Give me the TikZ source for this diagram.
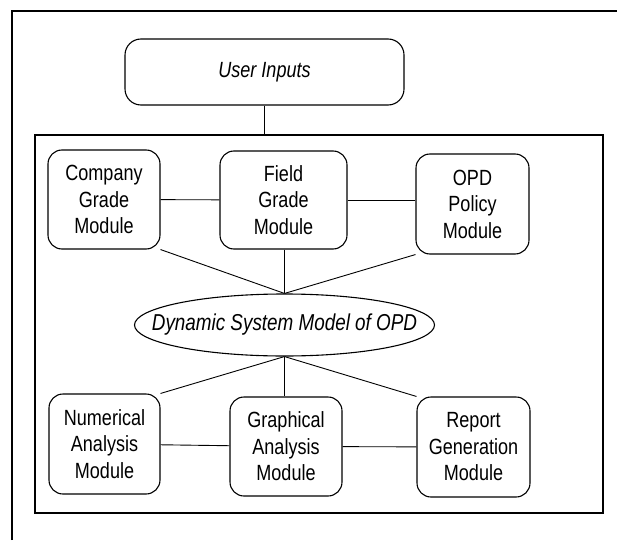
\documentclass[tikz,border=0pt]{standalone}
\usepackage{fontspec}
\setmainfont{Liberation Sans}[FakeStretch=0.82]
\usetikzlibrary{shapes.geometric}
\begin{document}
\begin{tikzpicture}[x=1pt,y=-1pt,
        module/.style={draw,line width=1.1pt,rounded corners=14pt,align=center,inner sep=0pt,font=\fontsize{22}{26.5}\selectfont},
        link/.style={line width=0.9pt}]
            \useasboundingbox[fill=white] (0,0) rectangle (617,540);
            \draw[line width=1.6pt] (12,540) -- (12,11) -- (617,11);

            \node[draw,line width=1.1pt,minimum width=568pt,minimum height=378pt] (sysframe) at (319,324){};
            \node[module,minimum width=279pt,minimum height=66pt,rounded corners=16pt,font=\fontsize{22}{26}\selectfont\itshape] (user) at (264.5,72){User Inputs};

            \node[module,minimum width=112pt,minimum height=99pt] (company) at (104,199.5){Company\\Grade\\Module};
            \node[module,minimum width=127pt,minimum height=98pt] (field) at (283.5,200){Field\\Grade\\Module};
            \node[module,minimum width=113pt,minimum height=100pt] (policy) at (472.5,204){OPD\\Policy\\Module};

            \node[draw,ellipse,line width=1.1pt,minimum width=300pt,minimum height=62pt,inner sep=0pt,font=\fontsize{23}{26}\selectfont\itshape] (dsm) at (284.5,325){\makebox[0pt]{Dynamic System Model of OPD}};

            \node[module,minimum width=111pt,minimum height=100pt] (numeric) at (104.5,444){Numerical\\Analysis\\Module};
            \node[module,minimum width=112pt,minimum height=99pt] (graphic) at (286,446.5){Graphical\\Analysis\\Module};
            \node[module,minimum width=113pt,minimum height=100pt] (report) at (473.5,447){Report\\Generation\\Module};

            \draw[link] (user.south) -- (user.south |- sysframe.north);
            \draw[link] (company) -- (field);
            \draw[link] (field) -- (policy.west |- field);
            \draw[link] (company.south east) -- (dsm.north);
            \draw[link] (field.south -| dsm.north) -- (dsm.north);
            \draw[link] (policy.south west) -- (dsm.north);
            \draw[link] (dsm.south) -- (numeric.north east);
            \draw[link] (dsm.south) -- (graphic.north -| dsm.south);
            \draw[link] (dsm.south) -- (report.north west);
            \draw[link] (numeric) -- (graphic);
            \draw[link] (graphic) -- (report);
        \end{tikzpicture}
\end{document}
